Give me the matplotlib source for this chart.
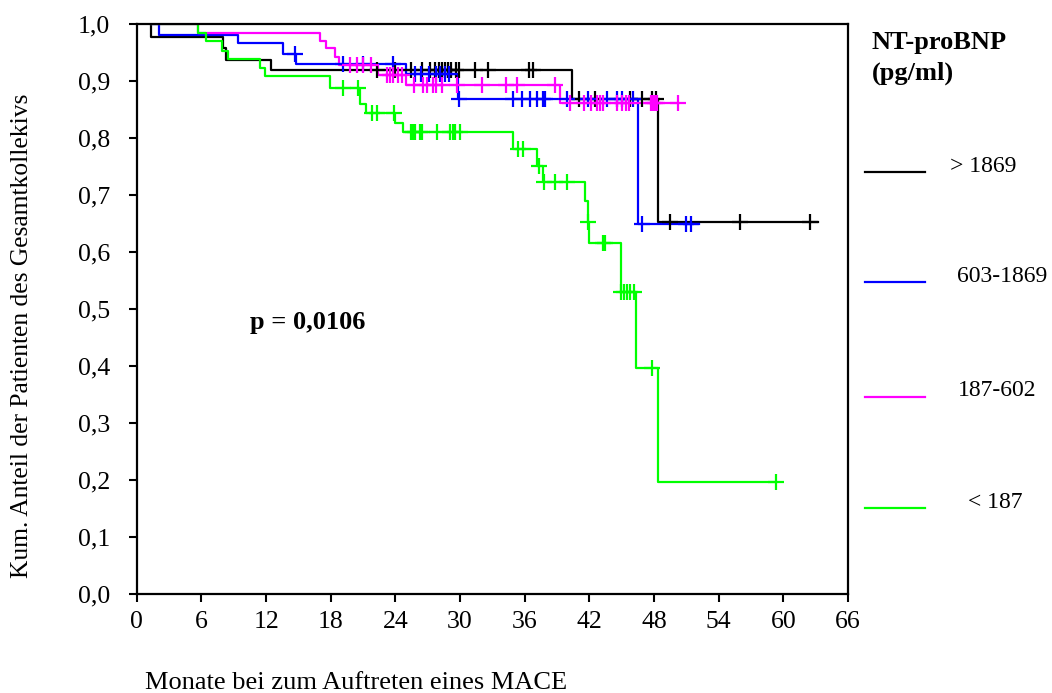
import numpy as np
import matplotlib
matplotlib.use("Agg")
import matplotlib.pyplot as plt
from matplotlib.lines import Line2D

plt.rcParams['font.family'] = ['Liberation Serif', 'DejaVu Serif']

# Kaplan-Meier curves: step times, survival after step, end of follow-up, censor times
grp_labels = ["> 1869", "603-1869", "187-602", "< 187"]
grp_colors = ["#000000", "#0000ff", "#ff00ff", "#00ff00"]

black_t = [1.3, 1.35, 8.0, 8.3, 12.5, 40.4, 48.4]
black_s = [1.0, 0.978, 0.957, 0.937, 0.919, 0.868, 0.652]
black_end = 63.2
black_cens = [22.3, 24.0, 25.4, 26.5, 27.2, 27.7, 28.0, 28.3, 28.6, 28.9, 29.2, 29.6,
              29.9, 31.4, 32.6, 36.4, 36.8, 41.0, 42.5, 45.8, 46.9, 47.8, 48.2,
              49.5, 56.0, 62.5]

blue_t = [1.4, 2.1, 9.4, 13.6, 14.8, 25.0, 29.8, 46.5]
blue_s = [1.0, 0.981, 0.966, 0.947, 0.929, 0.913, 0.868, 0.649]
blue_end = 52.2
blue_cens = [14.7, 19.1, 21.0, 23.8, 25.8, 26.4, 27.1, 27.8, 28.1, 28.6, 29.0, 29.9,
             34.9, 35.7, 36.5, 37.1, 37.7, 37.9, 39.9, 41.9, 43.6, 44.6, 45.0, 46.0,
             46.9, 51.0, 51.4]

mag_t = [1.3, 5.7, 17.0, 17.6, 18.4, 18.8, 22.4, 25.0, 39.3]
mag_s = [1.0, 0.985, 0.970, 0.957, 0.942, 0.928, 0.910, 0.893, 0.862]
mag_end = 50.2
mag_cens = [19.8, 20.4, 21.0, 21.7, 23.2, 23.5, 23.8, 24.2, 24.6, 25.7, 26.6, 26.9,
            27.5, 27.8, 28.3, 29.7, 32.0, 34.3, 35.3, 38.8, 40.2, 41.5, 42.1, 42.7,
            43.0, 43.3, 44.6, 45.0, 45.4, 45.7, 47.7, 47.9, 48.1, 48.3, 50.2]

green_t = [1.3, 5.7, 6.4, 7.9, 8.5, 11.4, 11.9, 17.9, 20.7, 21.3, 24.0, 24.7, 34.9,
           37.1, 37.7, 41.6, 41.9, 42.0, 44.9, 46.3, 48.4]
green_s = [1.0, 0.985, 0.970, 0.953, 0.938, 0.923, 0.908, 0.888, 0.860, 0.844, 0.826,
           0.811, 0.781, 0.751, 0.722, 0.689, 0.652, 0.616, 0.529, 0.397, 0.197]
green_end = 59.3
green_cens = [19.1, 20.5, 21.8, 22.3, 23.9, 25.4, 25.6, 25.8, 26.3, 26.5, 27.9, 29.1,
              29.3, 29.55, 30.0, 35.4, 35.8, 37.3, 37.8, 38.8, 39.9, 41.9, 43.3, 43.4,
              44.95, 45.2, 45.5, 45.8, 46.1, 47.8, 59.3]

x_ticks = list(range(0, 67, 6))
y_ticks = [round(0.1 * i, 1) for i in range(11)]

fig = plt.figure(figsize=(10.52, 6.93), dpi=100)
ax = fig.add_axes([0.1300, 0.1429, 0.6762, 0.8225])

groups = [
    (black_t, black_s, black_end, black_cens),
    (blue_t, blue_s, blue_end, blue_cens),
    (mag_t, mag_s, mag_end, mag_cens),
    (green_t, green_s, green_end, green_cens),
]

for (t, s, end, cens), col in zip(groups, grp_colors):
    tt = np.array(t + [end])
    ss = np.array(s + [s[-1]])
    ax.step(tt, ss, where='post', color=col, lw=1.6, zorder=2)
    # censor marks sit on the curve value at that time
    idx = np.searchsorted(np.array(t), np.array(cens), side='right') - 1
    cy = np.array(s)[idx]
    ax.plot(cens, cy, ls='none', marker='+', ms=12, mew=1.6, color=col, zorder=3)

ax.set_xlim(0, 66)
ax.set_ylim(0, 1.0)
ax.set_xticks(x_ticks)
ax.set_xticklabels([str(v) for v in x_ticks])
ax.set_yticks(y_ticks)
ax.set_yticklabels([("%.1f" % v).replace('.', ',') for v in y_ticks])
ax.tick_params(direction='out', length=6, width=1.5, labelsize=18.5)
ax.tick_params(axis='y', pad=13)
ax.tick_params(axis='x', pad=6)
for sp in ax.spines.values():
    sp.set_linewidth(1.6)

fig.text(0.0209, 0.515, "Kum. Anteil der Patienten des Gesamtkollekivs",
         rotation=90, ha='center', va='center', fontsize=18.4)
fig.text(145 / 1052, 1 - 683 / 693, "Monate bei zum Auftreten eines MACE",
         ha='left', va='center', fontsize=19)
fig.text(250 / 1052, 1 - 323 / 693, "p = 0,0106", ha='left', va='center',
         fontsize=19, fontweight='bold')

# legend outside the axes
fig.text(872 / 1052, 1 - 42 / 693, "NT-proBNP", ha='left', va='center',
         fontsize=19, fontweight='bold')
fig.text(872 / 1052, 1 - 73 / 693, "(pg/ml)", ha='left', va='center',
         fontsize=19, fontweight='bold')
leg_y = [172, 282, 397, 508]
leg_x = [950, 957, 958, 968]
for lab, col, ly, lx in zip(grp_labels, grp_colors, leg_y, leg_x):
    fig.add_artist(Line2D([865 / 1052, 925 / 1052], [1 - ly / 693, 1 - ly / 693],
                          color=col, lw=1.6))
    fig.text(lx / 1052, 1 - (ly - 6) / 693, lab, ha='left', va='center', fontsize=17)

fig.savefig("out.png", dpi=100)
